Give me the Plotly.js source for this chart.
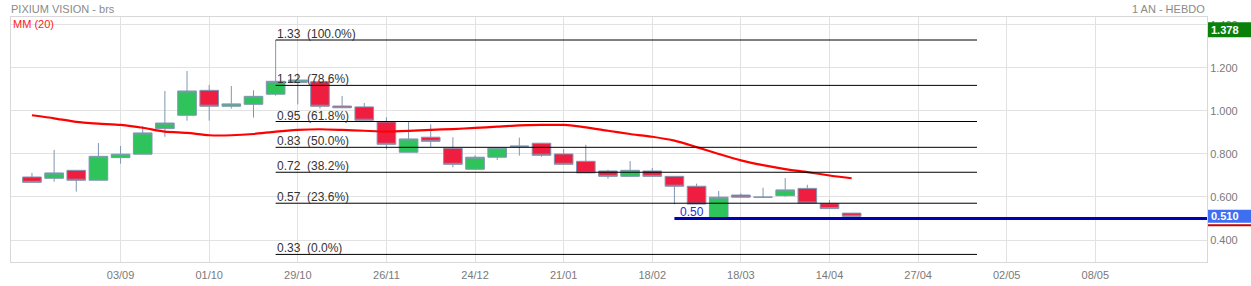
<!DOCTYPE html>
<html>
<head>
<meta charset="utf-8">
<script src="https://cdn.plot.ly/plotly-3.0.1.min.js"></script>
<style>
  html, body { margin: 0; padding: 0; background: #ffffff; }
  #chart { width: 1251px; height: 286px; }
</style>
</head>
<body>
<div id="chart"></div>
<script>
// ---- Data (weekly candles, index 0 = first week shown) ----
const OPEN  = [0.693,0.687,0.724,0.678,0.783,0.799,0.918,0.980,1.096,1.022,
               1.031,1.078,1.132,1.136,1.023,1.019,0.949,0.808,0.878,0.827,
               0.729,0.785,0.836,0.850,0.800,0.766,0.721,0.696,0.721,0.696,
               0.650,0.501,0.609,0.599,0.606,0.640,0.569,0.525];
const HIGH  = [0.712,0.819,0.724,0.851,0.837,0.930,1.093,1.186,1.121,1.116,
               1.096,1.330,1.175,1.136,1.070,1.037,0.971,0.950,0.938,0.878,
               0.794,0.827,0.876,0.850,0.823,0.843,0.727,0.767,0.735,0.696,
               0.662,0.628,0.617,0.643,0.688,0.657,0.586,0.525];
const LOW   = [0.668,0.671,0.625,0.678,0.755,0.799,0.880,0.955,0.955,1.011,
               0.969,1.071,1.031,1.011,1.015,0.957,0.822,0.808,0.833,0.738,
               0.729,0.772,0.792,0.787,0.752,0.712,0.685,0.696,0.696,0.566,
               0.567,0.501,0.599,0.595,0.601,0.572,0.546,0.510];
const CLOSE = [0.668,0.712,0.678,0.789,0.799,0.898,0.944,1.093,1.022,1.033,
               1.068,1.138,1.144,1.022,1.015,0.957,0.845,0.870,0.859,0.752,
               0.785,0.827,0.836,0.794,0.752,0.712,0.696,0.724,0.696,0.650,
               0.567,0.599,0.599,0.599,0.633,0.572,0.546,0.510];
const MM20  = [0.980,0.966,0.949,0.941,0.935,0.922,0.904,0.898,0.887,0.887,
               0.893,0.904,0.912,0.915,0.912,0.908,0.904,0.907,0.912,0.916,
               0.921,0.927,0.933,0.935,0.935,0.924,0.908,0.893,0.880,0.862,
               0.832,0.800,0.770,0.748,0.730,0.716,0.700,0.687];

const TICK_INDEX  = [4, 8, 12, 16, 20, 24, 28, 32, 36, 40, 44, 48];
const TICK_LABELS = ["03/09","01/10","29/10","26/11","24/12","21/01","18/02","18/03","14/04","27/04","02/05","08/05"];
const Y_TICKS = [0.4, 0.6, 0.8, 1.0, 1.2, 1.4];

// Fibonacci retracement levels
const FIB_LEVELS = [1.330, 1.119, 0.951, 0.831, 0.715, 0.571, 0.333];
const FIB_LABELS = ["1.33\u00a0\u00a0(100.0%)","1.12\u00a0\u00a0(78.6%)","0.95\u00a0\u00a0(61.8%)",
                    "0.83\u00a0\u00a0(50.0%)","0.72\u00a0\u00a0(38.2%)","0.57\u00a0\u00a0(23.6%)","0.33\u00a0\u00a0(0.0%)"];
const FIB_START = 11, FIB_END = 42.66;

const SUPPORT_LEVEL = 0.50, SUPPORT_LABEL = "0.50", SUPPORT_START = 29;
const HIGH_MARK = 1.378, LAST_PRICE = 0.510;

const X_RANGE = [-0.946, 53.04];
const Y_RANGE = [0.2977, 1.437];

const X = OPEN.map((_, i) => i);

const traces = [
  {
    type: 'candlestick',
    x: X, open: OPEN, high: HIGH, low: LOW, close: CLOSE,
    increasing: { fillcolor: '#2ec45b', line: { color: '#7f97b2', width: 1 } },
    decreasing: { fillcolor: '#ef1e40', line: { color: '#7f97b2', width: 1 } },
    whiskerwidth: 0,
    hoverinfo: 'skip',
    showlegend: false
  },
  {
    type: 'scatter', mode: 'lines',
    x: X, y: MM20,
    line: { color: '#ff0000', width: 2.2, shape: 'spline', smoothing: 0.6 },
    hoverinfo: 'skip', showlegend: false
  }
];

const shapes = [];
const annotations = [];

FIB_LEVELS.forEach((lv, i) => {
  shapes.push({ type: 'line', xref: 'x', yref: 'y', x0: FIB_START, x1: FIB_END, y0: lv, y1: lv,
                line: { color: '#000000', width: 1 }, layer: 'above' });
  annotations.push({ xref: 'x', yref: 'y', x: FIB_START, y: lv, text: FIB_LABELS[i],
                     xanchor: 'left', yanchor: 'bottom', showarrow: false, yshift: -3, xshift: -1,
                     font: { family: 'Liberation Sans, Arial, sans-serif', size: 12, color: '#333333' } });
});

// support line
shapes.push({ type: 'line', xref: 'x', yref: 'y', x0: SUPPORT_START, x1: X_RANGE[1], y0: SUPPORT_LEVEL, y1: SUPPORT_LEVEL,
              line: { color: '#0000b4', width: 3 }, layer: 'above' });
annotations.push({ xref: 'x', yref: 'y', x: SUPPORT_START, y: SUPPORT_LEVEL, text: SUPPORT_LABEL,
                   xanchor: 'left', yanchor: 'bottom', showarrow: false, xshift: 4, yshift: -2,
                   font: { family: 'Liberation Sans, Arial, sans-serif', size: 12, color: '#2a2ad0' } });

// price boxes on the right
shapes.push({ type: 'rect', xref: 'paper', yref: 'y', xsizemode: 'pixel', ysizemode: 'pixel',
              xanchor: 1, yanchor: HIGH_MARK, x0: 1, x1: 45, y0: -7.5, y1: 7.5,
              fillcolor: '#0a800a', line: { width: 0 } });
shapes.push({ type: 'rect', xref: 'paper', yref: 'y', xsizemode: 'pixel', ysizemode: 'pixel',
              xanchor: 1, yanchor: LAST_PRICE, x0: 1, x1: 45, y0: -6.5, y1: 6.5,
              fillcolor: '#3d6ff0', line: { width: 0 } });
shapes.push({ type: 'line', xref: 'paper', yref: 'y', xsizemode: 'pixel', ysizemode: 'pixel',
              xanchor: 1, yanchor: LAST_PRICE, x0: 1, x1: 45, y0: -9, y1: -9,
              line: { color: '#c80000', width: 2 } });
annotations.push({ xref: 'paper', yref: 'y', x: 1, y: HIGH_MARK, text: HIGH_MARK.toFixed(3),
                   xanchor: 'left', yanchor: 'middle', showarrow: false, xshift: 2,
                   font: { family: 'Liberation Sans, Arial, sans-serif', size: 11, color: '#ffffff', weight: 'bold' } });
annotations.push({ xref: 'paper', yref: 'y', x: 1, y: LAST_PRICE, text: LAST_PRICE.toFixed(3),
                   xanchor: 'left', yanchor: 'middle', showarrow: false, xshift: 2,
                   font: { family: 'Liberation Sans, Arial, sans-serif', size: 11, color: '#ffffff', weight: 'bold' } });

// titles
annotations.push({ xref: 'paper', yref: 'paper', x: 0, y: 1.033, text: 'PIXIUM VISION - brs',
                   xanchor: 'left', yanchor: 'middle', showarrow: false, xshift: -2,
                   font: { family: 'Liberation Sans, Arial, sans-serif', size: 11, color: '#8a8a8a' } });
annotations.push({ xref: 'paper', yref: 'paper', x: 1, y: 1.033, text: '1 AN - HEBDO',
                   xanchor: 'right', yanchor: 'middle', showarrow: false,
                   font: { family: 'Liberation Sans, Arial, sans-serif', size: 11, color: '#8a8a8a' } });
annotations.push({ xref: 'paper', yref: 'paper', x: 0, y: 0.971, text: 'MM (20)',
                   xanchor: 'left', yanchor: 'middle', showarrow: false,
                   font: { family: 'Liberation Sans, Arial, sans-serif', size: 11, color: '#ff2020' } });

const layout = {
  width: 1251, height: 286,
  margin: { l: 11, r: 44, t: 17, b: 24, pad: 0 },
  paper_bgcolor: '#ffffff', plot_bgcolor: '#ffffff',
  showlegend: false,
  boxmode: 'overlay', boxgap: 0.16, boxgroupgap: 0,
  font: { family: 'Liberation Sans, Arial, sans-serif' },
  xaxis: {
    type: 'linear', range: X_RANGE, rangeslider: { visible: false },
    tickmode: 'array', tickvals: TICK_INDEX, ticktext: TICK_LABELS,
    showgrid: true, gridcolor: '#e2e2e2', gridwidth: 1,
    showline: true, mirror: true, linecolor: '#d8d8d8', linewidth: 1,
    zeroline: false, ticks: '', ticklabelstandoff: 3,
    tickfont: { size: 11, color: '#7a7a7a' }, fixedrange: true
  },
  yaxis: {
    side: 'right', range: Y_RANGE,
    tickmode: 'array', tickvals: Y_TICKS, tickformat: '.3f',
    showgrid: true, gridcolor: '#e2e2e2', gridwidth: 1,
    showline: true, mirror: true, linecolor: '#d8d8d8', linewidth: 1,
    zeroline: false, ticks: '',
    tickfont: { size: 11, color: '#7a7a7a' }, fixedrange: true
  },
  shapes: shapes,
  annotations: annotations
};

Plotly.newPlot('chart', traces, layout, { displayModeBar: false, staticPlot: true });
</script>
</body>
</html>
